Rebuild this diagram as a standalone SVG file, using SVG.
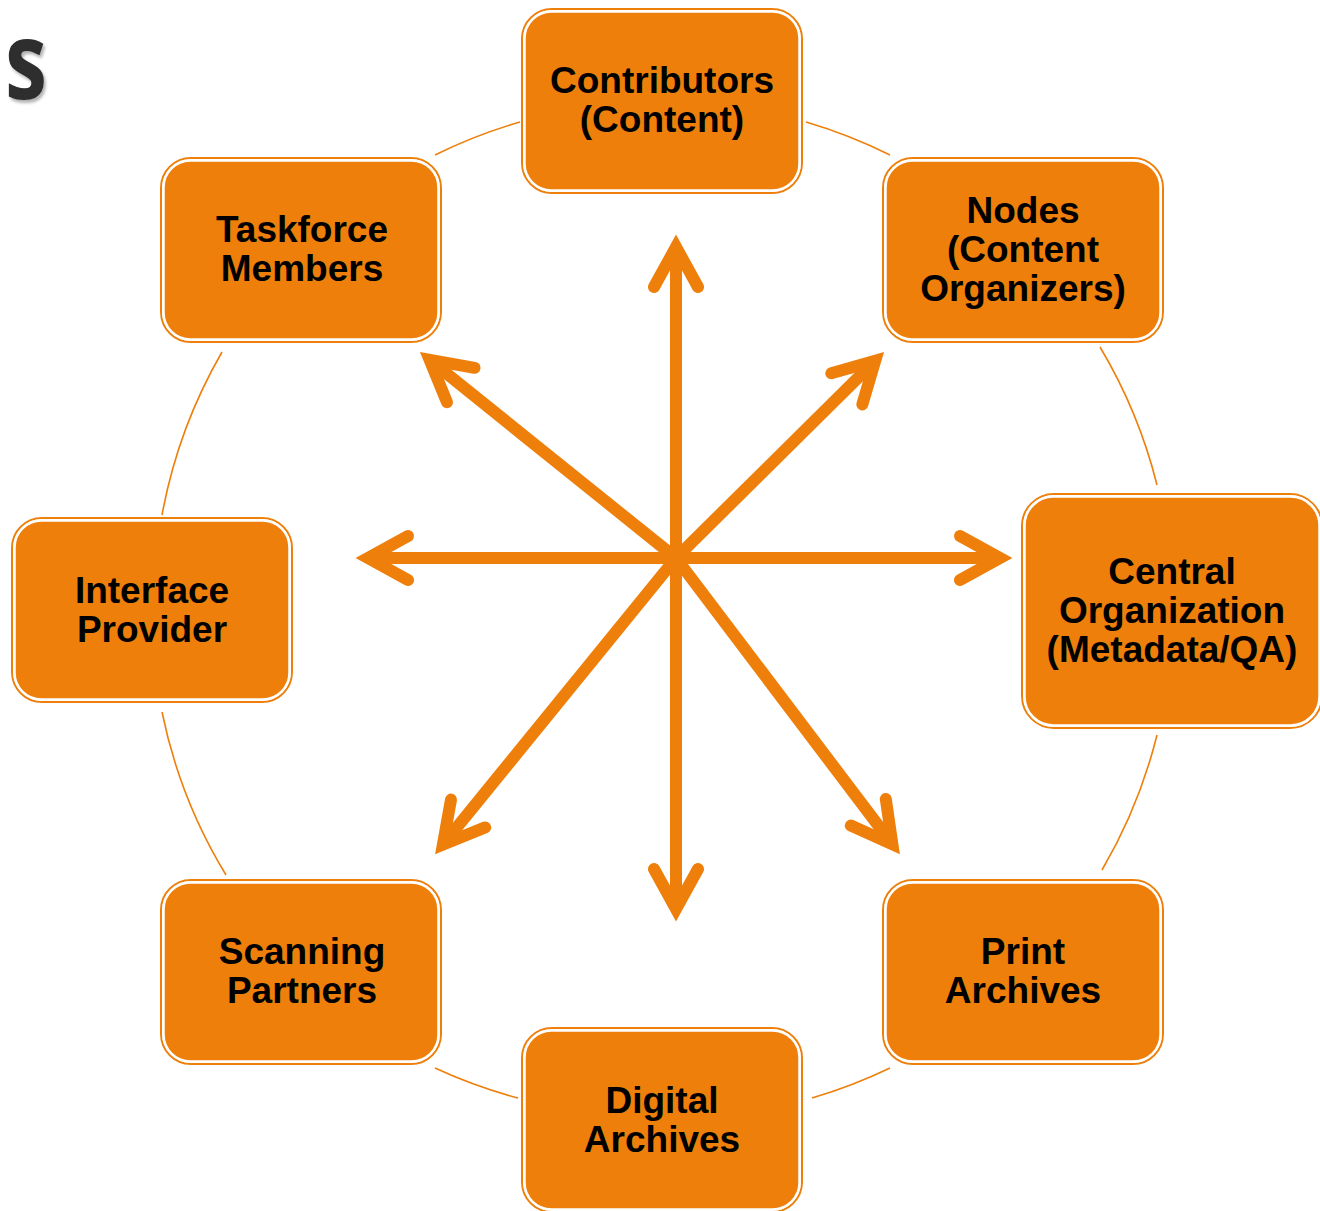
<svg xmlns="http://www.w3.org/2000/svg" width="1320" height="1211" viewBox="0 0 1320 1211">
<style>
.outer{fill:none;stroke:#EE7F0B;stroke-width:2}
.box{fill:#EE7F0B;stroke:#ffffff;stroke-width:2.5}
.lbl{font-family:"Liberation Sans",Arial,sans-serif;font-weight:bold;font-size:37px;fill:#000;text-anchor:middle}
.ring{fill:none;stroke:#EE7F0B;stroke-width:1.6}
.shaft{fill:none;stroke:#EE7F0B;stroke-width:12;stroke-linecap:butt}
.head{fill:none;stroke:#EE7F0B;stroke-width:12;stroke-linecap:round;stroke-linejoin:miter;stroke-miterlimit:6}
</style>
<defs>
<filter id="sh" x="-20%" y="-20%" width="150%" height="150%">
<feDropShadow dx="2" dy="3" stdDeviation="1.5" flood-color="#000" flood-opacity="0.3"/>
</filter>
</defs>
<rect width="1320" height="1211" fill="#ffffff"/>
<text x="5" y="99" font-family="Open Sans,Liberation Sans,sans-serif" font-weight="bold" font-size="108" fill="#2e2e2e" textLength="42" lengthAdjust="spacingAndGlyphs" filter="url(#sh)">s</text>
<g id="connectors">
<path class="ring" d="M435 155 A510 510 0 0 1 520 122"/>
<path class="ring" d="M806 122 A510 510 0 0 1 890 155"/>
<path class="ring" d="M1100 347 A510 510 0 0 1 1157 485"/>
<path class="ring" d="M1157 735 A510 510 0 0 1 1102 870"/>
<path class="ring" d="M890 1068 A510 510 0 0 1 812 1098"/>
<path class="ring" d="M518 1098 A510 510 0 0 1 435 1068"/>
<path class="ring" d="M226 875 A510 510 0 0 1 162 712"/>
<path class="ring" d="M162 515 A510 510 0 0 1 222 352"/>
<path class="shaft" d="M676 558 L676 247"/>
<path class="head" d="M654 287 L676 247 L698 287"/>
<path class="shaft" d="M676 558 L676 909"/>
<path class="head" d="M654 869 L676 909 L698 869"/>
<path class="shaft" d="M676 558 L368 558"/>
<path class="head" d="M408 536 L368 558 L408 580"/>
<path class="shaft" d="M676 558 L1000 558"/>
<path class="head" d="M960 536 L1000 558 L960 580"/>
<path class="shaft" d="M676 558 L429.6 359.9"/>
<path class="head" d="M474.6 367.8 L429.6 359.9 L447 402.2"/>
<path class="shaft" d="M676 558 L875.2 360.7"/>
<path class="head" d="M831.3 373.3 L875.2 360.7 L862.3 404.5"/>
<path class="shaft" d="M676 558 L892.4 844.2"/>
<path class="head" d="M885.8 799 L892.4 844.2 L850.8 825.6"/>
<path class="shaft" d="M676 558 L442.9 844.5"/>
<path class="head" d="M451 799.6 L442.9 844.5 L485.2 827.4"/>
</g>
<g id="contributors">
<rect class="outer" x="522" y="9" width="280" height="184" rx="30"/>
<rect class="box" x="524.5" y="11.5" width="275" height="179" rx="27"/>
<text class="lbl" x="662" y="93">Contributors</text>
<text class="lbl" x="662" y="132">(Content)</text>
</g>
<g id="nodes">
<rect class="outer" x="883" y="158" width="280" height="184" rx="30"/>
<rect class="box" x="885.5" y="160.5" width="275" height="179" rx="27"/>
<text class="lbl" x="1023" y="223">Nodes</text>
<text class="lbl" x="1023" y="262">(Content</text>
<text class="lbl" x="1023" y="301">Organizers)</text>
</g>
<g id="central">
<rect class="outer" x="1022" y="494" width="300" height="234" rx="32"/>
<rect class="box" x="1024.5" y="496.5" width="295" height="229" rx="29"/>
<text class="lbl" x="1172" y="584">Central</text>
<text class="lbl" x="1172" y="623">Organization</text>
<text class="lbl" x="1172" y="662">(Metadata/QA)</text>
</g>
<g id="print">
<rect class="outer" x="883" y="880" width="280" height="184" rx="30"/>
<rect class="box" x="885.5" y="882.5" width="275" height="179" rx="27"/>
<text class="lbl" x="1023" y="964">Print</text>
<text class="lbl" x="1023" y="1003">Archives</text>
</g>
<g id="digital">
<rect class="outer" x="522" y="1028" width="280" height="184" rx="30"/>
<rect class="box" x="524.5" y="1030.5" width="275" height="179" rx="27"/>
<text class="lbl" x="662" y="1113">Digital</text>
<text class="lbl" x="662" y="1152">Archives</text>
</g>
<g id="scanning">
<rect class="outer" x="161" y="880" width="280" height="184" rx="30"/>
<rect class="box" x="163.5" y="882.5" width="275" height="179" rx="27"/>
<text class="lbl" x="302" y="964">Scanning</text>
<text class="lbl" x="302" y="1003">Partners</text>
</g>
<g id="interface">
<rect class="outer" x="12" y="518" width="280" height="184" rx="30"/>
<rect class="box" x="14.5" y="520.5" width="275" height="179" rx="27"/>
<text class="lbl" x="152" y="603">Interface</text>
<text class="lbl" x="152" y="642">Provider</text>
</g>
<g id="taskforce">
<rect class="outer" x="161" y="158" width="280" height="184" rx="30"/>
<rect class="box" x="163.5" y="160.5" width="275" height="179" rx="27"/>
<text class="lbl" x="302" y="242">Taskforce</text>
<text class="lbl" x="302" y="281">Members</text>
</g>
</svg>
